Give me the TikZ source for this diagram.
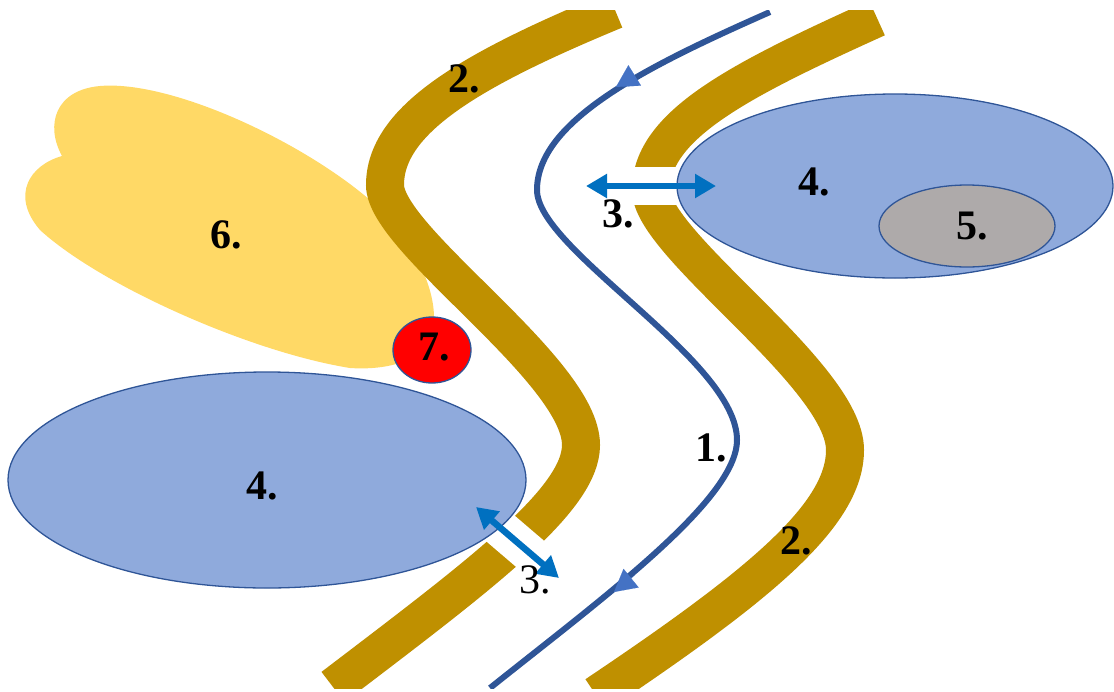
\documentclass[tikz,border=0pt]{standalone}
\usepackage{fontspec}
\setmainfont{Liberation Serif}
\usetikzlibrary{arrows.meta}
\definecolor{gold}{HTML}{BF9000}
\definecolor{yel}{HTML}{FFD966}
\definecolor{lblue}{HTML}{8FAADC}
\definecolor{dblue}{HTML}{2F5597}
\definecolor{hblue}{HTML}{4472C4}
\definecolor{ablue}{HTML}{0070C0}
\definecolor{gry}{HTML}{AEAAAA}
\tikzset{
  band/.style={draw=gold, line width=38pt},
  gap/.style={draw=white, line width=38pt},
  blob/.style={fill=lblue, draw=dblue, line width=1.3pt},
  lbl/.style={inner sep=0pt, font=\fontsize{42}{50}\selectfont\bfseries},
  lblr/.style={inner sep=0pt, font=\fontsize{42}{50}\selectfont},
  exch/.style={draw=ablue, line width=6.5pt, {Triangle[length=21pt,width=23pt]}-{Triangle[length=21pt,width=23pt]}},
  flowhead/.style={draw=hblue, line width=0.1pt, -{Triangle[length=22pt,width=24pt]}, hblue}
}
\begin{document}
\begin{tikzpicture}[x=1pt,y=-1pt]
\useasboundingbox (0,0) rectangle (1114,691);
% 6: yellow blob
\fill[yel] (100,86) .. controls (170,80) and (300,140) .. (370,200)
  .. controls (410,235) and (440,290) .. (433,330)
  .. controls (425,365) and (380,370) .. (350,368)
  .. controls (250,352) and (100,285) .. (40,230)
  .. controls (10,195) and (30,165) .. (62,156)
  .. controls (45,125) and (55,90) .. (100,86) -- cycle;
\begin{scope}
\clip (0,10) rectangle (1114,688);
% 2: left band
\draw[band] (615,10) .. controls (470,70) and (385,120) .. (385,185)
  .. controls (385,240) and (581,370) .. (581,445)
  .. controls (581,500) and (480,575) .. (333,687);
% 2: right band
\draw[band] (877,18) .. controls (740,80) and (651,125) .. (651,190)
  .. controls (651,245) and (845,375) .. (845,450)
  .. controls (845,515) and (760,585) .. (596,695);
% gaps
\coordinate (gr1) at (615,186);
\coordinate (gr2) at (678,186);
\draw[gap] (gr1) -- (gr2);
\coordinate (gb1) at (480,511);
\coordinate (gb2) at (556,576);
\draw[gap] (gb1) -- (gb2);
% 1: flow line
\draw[dblue, line width=6pt] (770,12) .. controls (650,65) and (537,120) .. (537,190)
  .. controls (537,250) and (737,360) .. (737,440)
  .. controls (737,500) and (600,600) .. (490,688);
\end{scope}
\coordinate (h1a) at (637,74);
\coordinate (h1b) at (616,87);
\draw[flowhead] (h1a) -- (h1b);
\coordinate (h2a) at (635,575);
\coordinate (h2b) at (614,592);
\draw[flowhead] (h2a) -- (h2b);
% 4, 5, 7
\path[blob] (267,480) ellipse [x radius=259, y radius=108];
\path[blob] (895,186) ellipse [x radius=218, y radius=92];
\path[fill=gry, draw=dblue, line width=1.3pt] (967,226) ellipse [x radius=88, y radius=41];
\path[fill=red, draw=dblue, line width=1.3pt] (432,350) ellipse [x radius=39, y radius=33];
% 3: exchange arrows
\coordinate (ar1) at (586,186);
\coordinate (ar2) at (716,186);
\draw[exch] (ar1) -- (ar2);
\coordinate (ab1) at (476,507);
\coordinate (ab2) at (559,578);
\draw[exch] (ab1) -- (ab2);
% labels
\node[lbl] (l1) at (711,448) {1.};
\node[lbl] (l2a) at (464,79) {2.};
\node[lbl] (l2b) at (796,541) {2.};
\node[lbl] (l3a) at (618,214) {3.};
\node[lblr] (l3b) at (535,580) {3.};
\node[lbl] (l4a) at (262,486) {4.};
\node[lbl] (l4b) at (814,182) {4.};
\node[lbl] (l5) at (972,226) {5.};
\node[lbl] (l6) at (226,235) {6.};
\node[lbl] (l7) at (434,347) {7.};
\end{tikzpicture}
\end{document}
